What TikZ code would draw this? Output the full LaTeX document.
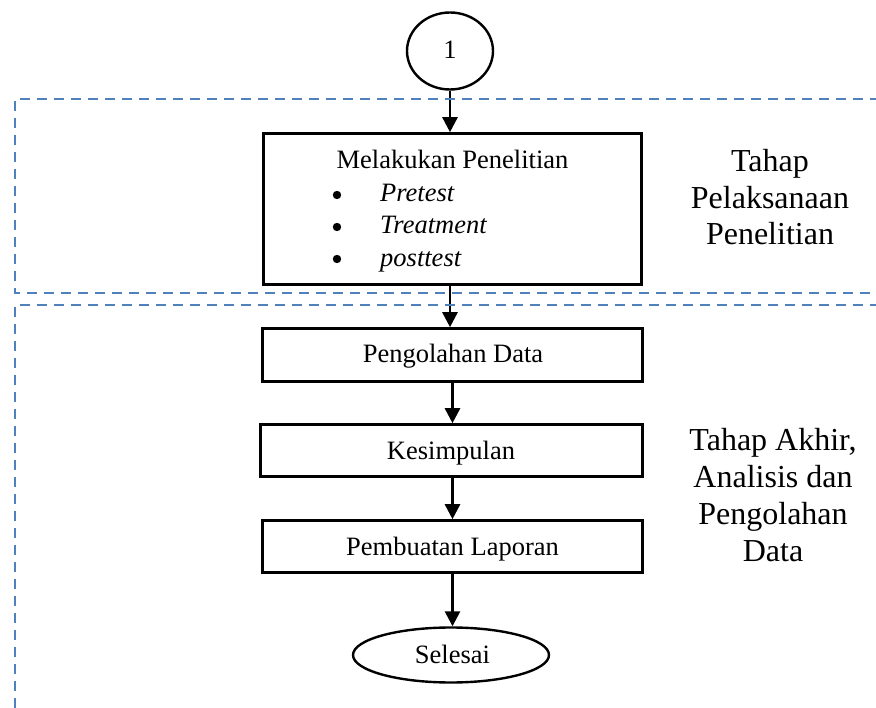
\documentclass[tikz,border=0pt]{standalone}
\usepackage{fontspec}
\setmainfont{Liberation Serif}
\usetikzlibrary{arrows.meta,shapes.geometric}
\definecolor{dashblue}{HTML}{4F81BD}
\begin{document}
\begin{tikzpicture}[x=1pt,y=-1pt,
  box/.style={draw=black,line width=2.6pt,inner sep=0pt},
  txt/.style={anchor=base,inner sep=0pt,font=\fontsize{26.5}{31}\selectfont},
  itm/.style={anchor=base west,inner sep=0pt,font=\fontsize{26.5}{31}\selectfont\itshape},
  flow/.style={line width=2.6pt,-{Triangle[length=15pt,width=15pt]}},
  zone/.style={draw=dashblue,line width=2.3pt,dash pattern=on 10pt off 7pt},
  side/.style={anchor=base,inner sep=0pt,font=\fontsize{32}{37}\selectfont}]
\useasboundingbox (0,0) rectangle (876,708);
\node[draw,ellipse,line width=2.4pt,minimum width=86pt,minimum height=77pt,inner sep=0pt] (c1) at (450,51) {};
\node[txt] (c1t) at (450,59) {1};
\node[box,minimum width=378pt,minimum height=151pt] (b1) at (452.5,209) {};
\node[txt] (t1) at (452.5,169) {Melakukan Penelitian};
\node[itm] (i1) at (380,202) {Pretest};
\node[itm] (i2) at (380,234) {Treatment};
\node[itm] (i3) at (380,267) {posttest};
\fill (337,195) circle (4.2pt);
\fill (337,227) circle (4.2pt);
\fill (337,259) circle (4.2pt);
\node[box,minimum width=380pt,minimum height=53pt] (b2) at (452.5,355) {};
\node[txt] (b2t) at (453,363) {Pengolahan Data};
\node[box,minimum width=382pt,minimum height=52pt] (b3) at (451.5,450.5) {};
\node[txt] (b3t) at (451,460) {Kesimpulan};
\node[box,minimum width=380pt,minimum height=52pt] (b4) at (452.5,546.5) {};
\node[txt] (b4t) at (452.5,555.5) {Pembuatan Laporan};
\node[draw,ellipse,line width=2.4pt,minimum width=196pt,minimum height=55pt,inner sep=0pt] (e) at (451,655) {};
\node[txt] (et) at (452.5,663) {Selesai};
\draw[flow] (c1.south) -- (b1.north -| c1.south);
\draw[flow] (b1.south -| c1.south) -- (b2.north -| c1.south);
\draw[flow] (b2.south) -- (b3.north -| b2.south);
\draw[flow] (b3.south -| b2.south) -- (b4.north -| b2.south);
\draw[flow] (b4.south) -- (e.north -| b4.south);
\coordinate (z1a) at (880,99);
\coordinate (z1b) at (15,99);
\coordinate (z1c) at (15,293);
\coordinate (z1d) at (880,293);
\coordinate (z2a) at (880,305);
\coordinate (z2b) at (15,305);
\coordinate (z2c) at (15,712);
\draw[zone] (z1a) -- (z1b) -- (z1c) -- (z1d);
\draw[zone] (z2a) -- (z2b) -- (z2c);
\node[side] (s1a) at (770,172) {Tahap};
\node[side] (s1b) at (770,208.5) {Pelaksanaan};
\node[side] (s1c) at (770,245) {Penelitian};
\node[side] (s2a) at (773,451) {Tahap Akhir,};
\node[side] (s2b) at (773,487.5) {Analisis dan};
\node[side] (s2c) at (773,524) {Pengolahan};
\node[side] (s2d) at (773,561) {Data};
\end{tikzpicture}
\end{document}
